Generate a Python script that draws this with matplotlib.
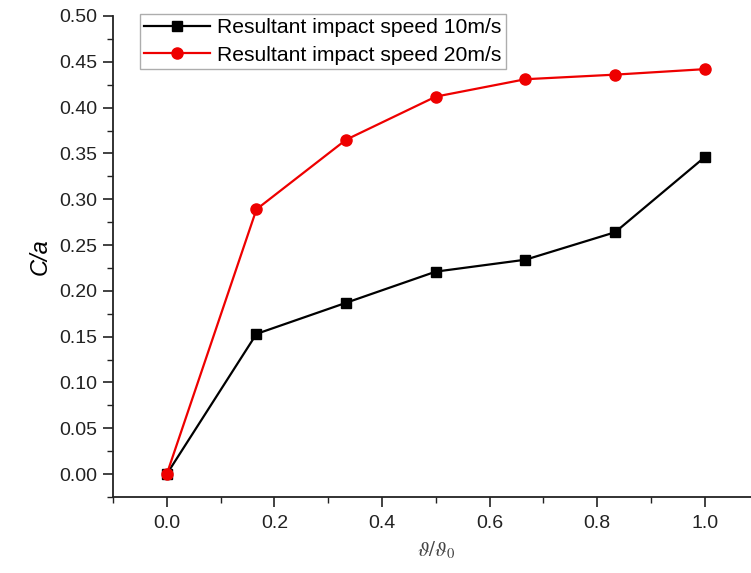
import matplotlib
matplotlib.use("Agg")
import matplotlib.pyplot as plt
from matplotlib.ticker import MultipleLocator

plt.rcParams['font.family'] = ['Liberation Sans', 'DejaVu Sans']
plt.rcParams['mathtext.fontset'] = 'stix'

x = [0.0, 1/6, 2/6, 3/6, 4/6, 5/6, 1.0]
speed10 = [0.0, 0.153, 0.187, 0.221, 0.234, 0.264, 0.346]
speed20 = [0.0, 0.289, 0.365, 0.412, 0.431, 0.436, 0.442]
labels = ["Resultant impact speed 10m/s", "Resultant impact speed 20m/s"]

fig = plt.figure(figsize=(7.51, 5.73), dpi=100)
ax = fig.add_axes([113/751, 76/573, 645.6/751, 481/573])

ax.plot(x, speed10, color='black', marker='s', markersize=7, linewidth=1.6, label=labels[0])
ax.plot(x, speed20, color='#ee0000', marker='o', markersize=8, linewidth=1.6, label=labels[1])

ax.set_xlim(-0.1, 1.1)
ax.set_ylim(-0.025, 0.50)
ax.xaxis.set_major_locator(MultipleLocator(0.2))
ax.xaxis.set_minor_locator(MultipleLocator(0.1))
ax.yaxis.set_major_locator(MultipleLocator(0.05))
ax.yaxis.set_minor_locator(MultipleLocator(0.025))
ax.xaxis.set_major_formatter(plt.FuncFormatter(lambda v, p: f"{v:.1f}"))
ax.yaxis.set_major_formatter(plt.FuncFormatter(lambda v, p: f"{v:.2f}"))

for s in ['top', 'right']:
    ax.spines[s].set_visible(False)
for s in ['left', 'bottom']:
    ax.spines[s].set_linewidth(1.3)
    ax.spines[s].set_color('#222222')

ax.tick_params(which='major', direction='out', length=7, width=1.2, labelsize=14, colors='#222222', pad=5)
ax.tick_params(which='minor', direction='out', length=4, width=1.0, colors='#222222')
ax.tick_params(axis='x', pad=6)
ax.tick_params(axis='y', pad=4)

ax.set_ylabel('C/a', fontsize=17, style='italic', labelpad=6)
ax.set_xlabel(r'$\vartheta/\vartheta_0$', fontsize=15, labelpad=5, color='#444444')

leg = ax.legend(loc='upper left', bbox_to_anchor=(27/645.6, 1.004), fontsize=15.2, frameon=True,
                fancybox=False, edgecolor='#999999', borderpad=0.2, handlelength=3.1,
                handletextpad=0.35, labelspacing=0.4, borderaxespad=0.0)
leg.get_frame().set_linewidth(1.0)

fig.savefig('out.png', dpi=100)
